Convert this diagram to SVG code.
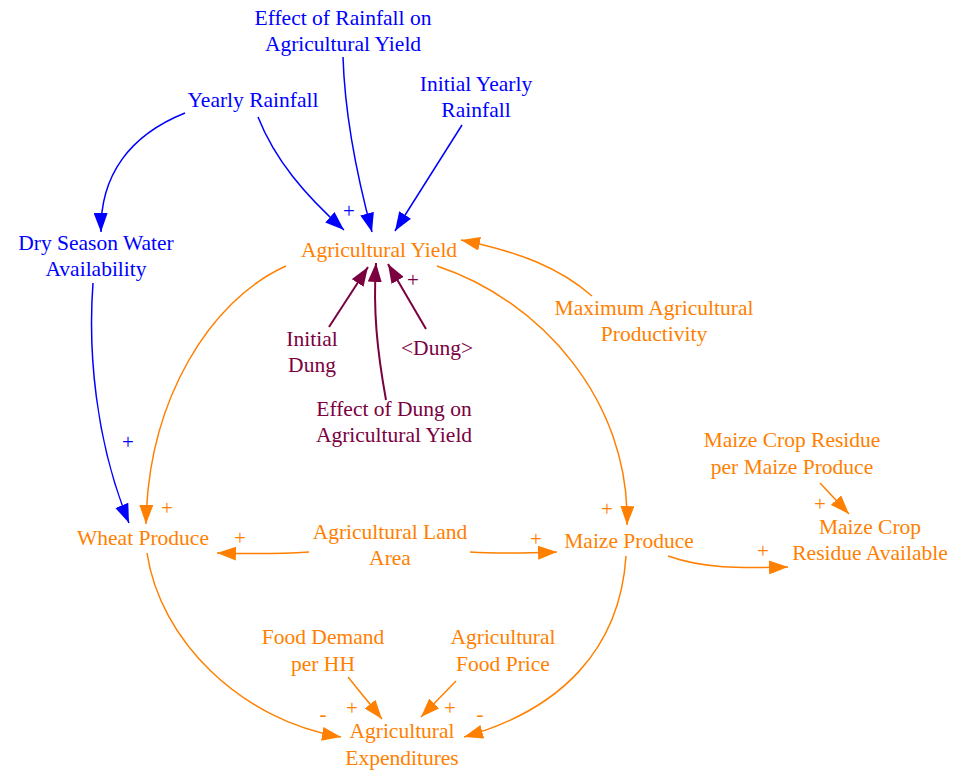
<svg xmlns="http://www.w3.org/2000/svg" width="953" height="772" viewBox="0 0 953 772">
<style>
text{font-family:"Liberation Serif","Times New Roman",serif;font-size:21.5px;text-anchor:middle}
.b{fill:#0000ff}.o{fill:#ff8000}.m{fill:#7a0040}
.sb{fill:#0000ff;font-size:21px}.so{fill:#ff8000;font-size:21px}.sm{fill:#7a0040;font-size:21px}
path.eb{fill:none;stroke:#0000ff;stroke-width:1.5}
path.eo{fill:none;stroke:#ff8000;stroke-width:1.5}
path.em{fill:none;stroke:#7a0040;stroke-width:2}
</style>
<defs>
<marker id="ab" markerUnits="userSpaceOnUse" markerWidth="19" markerHeight="14" refX="19" refY="7" orient="auto"><path d="M0,0 L19,7 L0,14 z" fill="#0000ff"/></marker>
<marker id="ao" markerUnits="userSpaceOnUse" markerWidth="19" markerHeight="14" refX="19" refY="7" orient="auto"><path d="M0,0 L19,7 L0,14 z" fill="#ff8000"/></marker>
<marker id="am" markerUnits="userSpaceOnUse" markerWidth="19" markerHeight="14" refX="19" refY="7" orient="auto"><path d="M0,0 L19,7 L0,14 z" fill="#7a0040"/></marker>
</defs>
<g id="connectors">
<path class="eb" marker-end="url(#ab)" d="M185,113 C130,135 100,175 101,232"/>
<path class="eb" marker-end="url(#ab)" d="M258,117 C275,160 305,195 344,230"/>
<path class="eb" marker-end="url(#ab)" d="M343,57 C345,120 358,180 372,232"/>
<path class="eb" marker-end="url(#ab)" d="M462,125 L395,231"/>
<path class="eo" marker-end="url(#ao)" d="M592,296 C560,268 520,252 461,240"/>
<path class="em" marker-end="url(#am)" d="M329,327 L368,267"/>
<path class="em" marker-end="url(#am)" d="M386,400 C377,350 373,310 376,263"/>
<path class="em" marker-end="url(#am)" d="M426,329 L388,264"/>
<path class="eo" marker-end="url(#ao)" d="M286,266 C210,300 148,400 146,524"/>
<path class="eo" marker-end="url(#ao)" d="M437,266 C540,300 630,400 627,525"/>
<path class="eb" marker-end="url(#ab)" d="M93,283 C88,350 95,440 129,523"/>
<path class="eo" marker-end="url(#ao)" d="M309,552 C280,554 250,554 217,553"/>
<path class="eo" marker-end="url(#ao)" d="M470,552 C500,554 530,553 557,552"/>
<path class="eo" marker-end="url(#ao)" d="M668,556 C705,569 740,568 788,567"/>
<path class="eo" marker-end="url(#ao)" d="M820,483 L849,514"/>
<path class="eo" marker-end="url(#ao)" d="M147,553 C160,640 240,720 341,737"/>
<path class="eo" marker-end="url(#ao)" d="M626,556 C620,650 560,710 464,737"/>
<path class="eo" marker-end="url(#ao)" d="M348,677 L382,719"/>
<path class="eo" marker-end="url(#ao)" d="M456,681 L421,717"/>
<text class="sb" x="349" y="218">+</text>
<text class="sm" x="413" y="287">+</text>
<text class="sb" x="128" y="449">+</text>
<text class="so" x="167" y="515">+</text>
<text class="so" x="607" y="516">+</text>
<text class="so" x="240" y="545">+</text>
<text class="so" x="536" y="546">+</text>
<text class="so" x="763" y="558">+</text>
<text class="so" x="820" y="511">+</text>
<text class="so" x="323" y="721">-</text>
<text class="so" x="352" y="715">+</text>
<text class="so" x="450" y="715">+</text>
<text class="so" x="480" y="721">-</text>
</g>
<g id="effect_rainfall"><text class="b" x="343" y="25">Effect of Rainfall on</text><text class="b" x="343" y="51">Agricultural Yield</text></g>
<g id="yearly_rainfall"><text class="b" x="253" y="107">Yearly Rainfall</text></g>
<g id="initial_yearly_rainfall"><text class="b" x="476" y="91">Initial Yearly</text><text class="b" x="476" y="117">Rainfall</text></g>
<g id="dry_season"><text class="b" x="96" y="250">Dry Season Water</text><text class="b" x="96" y="276">Availability</text></g>
<g id="agricultural_yield"><text class="o" x="379" y="257">Agricultural Yield</text></g>
<g id="max_productivity"><text class="o" x="654" y="315">Maximum Agricultural</text><text class="o" x="654" y="341">Productivity</text></g>
<g id="initial_dung"><text class="m" x="312" y="346">Initial</text><text class="m" x="312" y="372">Dung</text></g>
<g id="dung"><text class="m" x="437" y="355">&lt;Dung&gt;</text></g>
<g id="effect_dung"><text class="m" x="394" y="416">Effect of Dung on</text><text class="m" x="394" y="442">Agricultural Yield</text></g>
<g id="residue_per_produce"><text class="o" x="792" y="447">Maize Crop Residue</text><text class="o" x="792" y="474">per Maize Produce</text></g>
<g id="residue_available"><text class="o" x="870" y="534">Maize Crop</text><text class="o" x="870" y="560">Residue Available</text></g>
<g id="wheat_produce"><text class="o" x="143" y="545">Wheat Produce</text></g>
<g id="land_area"><text class="o" x="390" y="539">Agricultural Land</text><text class="o" x="390" y="565">Area</text></g>
<g id="maize_produce"><text class="o" x="629" y="548">Maize Produce</text></g>
<g id="food_demand"><text class="o" x="323" y="644">Food Demand</text><text class="o" x="323" y="671">per HH</text></g>
<g id="food_price"><text class="o" x="503" y="644">Agricultural</text><text class="o" x="503" y="671">Food Price</text></g>
<g id="expenditures"><text class="o" x="402" y="738">Agricultural</text><text class="o" x="402" y="765">Expenditures</text></g>
</svg>
